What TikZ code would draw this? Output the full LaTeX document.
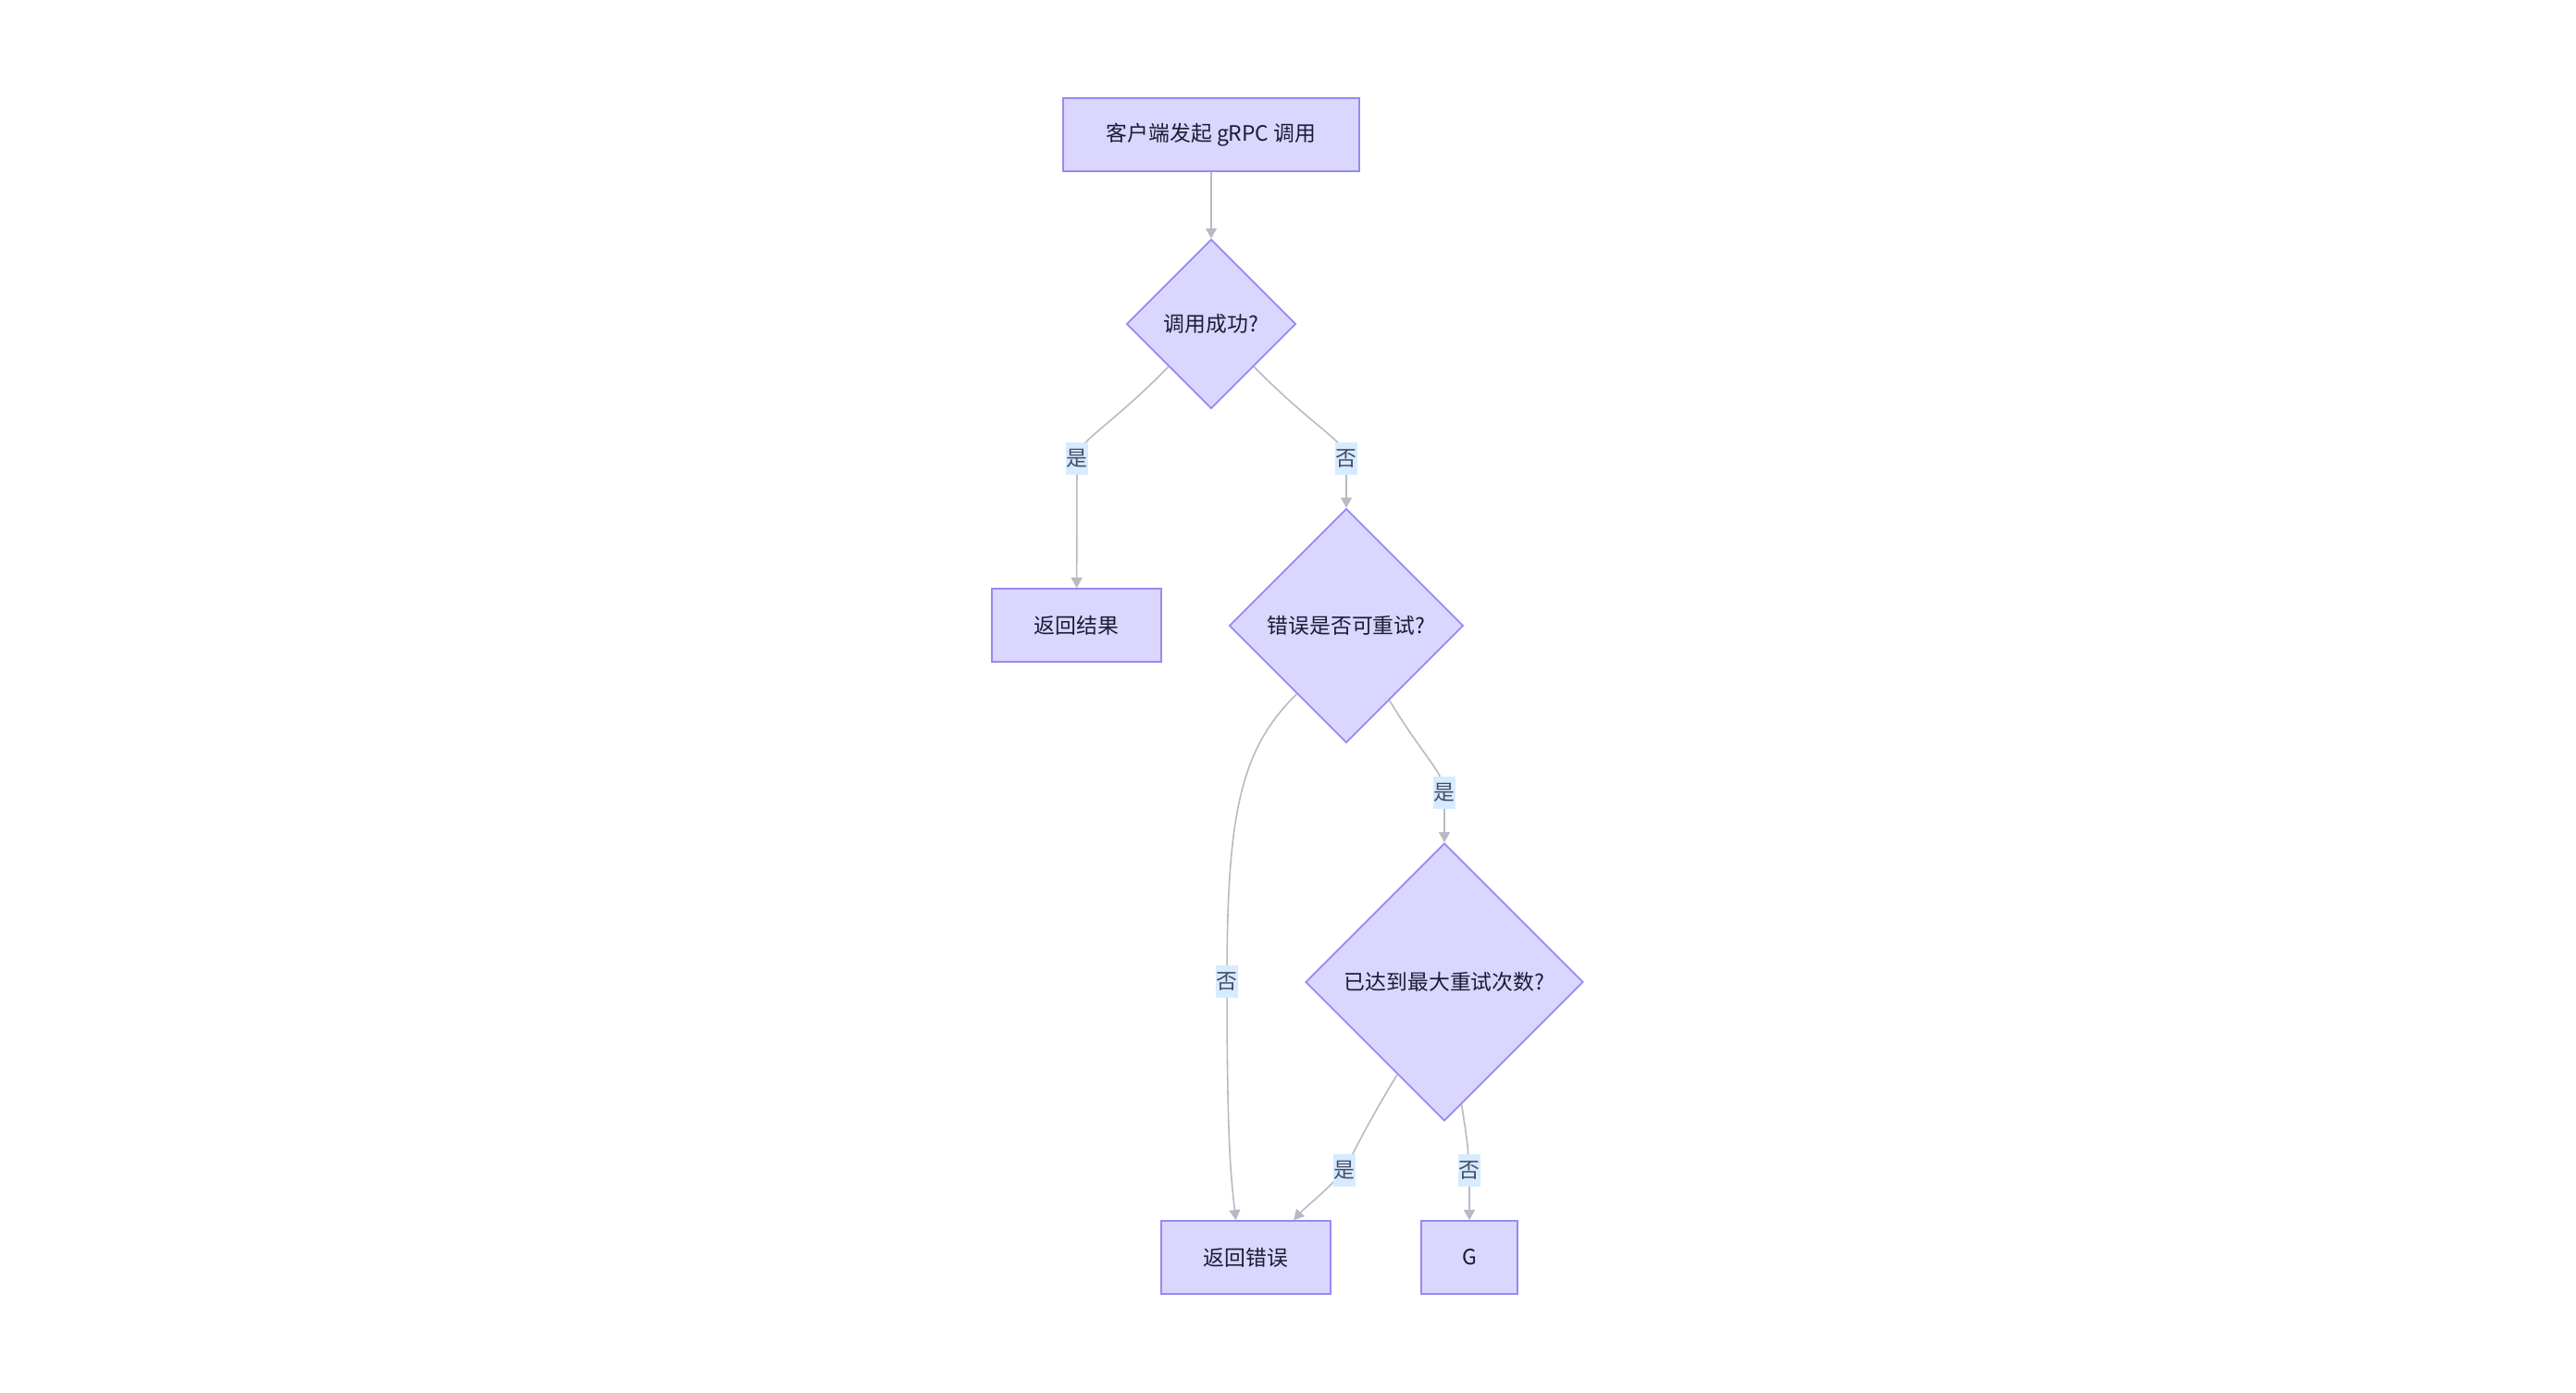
\documentclass[tikz,border=0pt]{standalone}
\usepackage{fontspec}
\setmainfont{Noto Sans CJK SC}
\usepackage{xcolor}
\usetikzlibrary{arrows.meta, shapes.geometric}

\definecolor{nodefill}{RGB}{218,214,254}
\definecolor{nodeline}{RGB}{150,138,242}
\definecolor{edgeline}{RGB}{185,185,195}
\definecolor{lblfill}{RGB}{214,235,255}
\definecolor{nodetext}{RGB}{28,28,52}
\definecolor{lbltext}{RGB}{72,76,102}

\begin{document}
\begin{tikzpicture}[
    font=\fontsize{6.5pt}{8pt}\selectfont,
    >={Triangle[length=1.1mm, width=1.2mm]},
    box/.style={
        draw=nodeline,
        fill=nodefill,
        text=nodetext,
        line width=0.5pt,
        align=center,
        minimum height=0.79cm,
        inner sep=1pt
    },
    decision/.style={
        diamond,
        aspect=1,
        draw=nodeline,
        fill=nodefill,
        text=nodetext,
        line width=0.5pt,
        inner sep=1pt
    },
    link/.style={
        ->,
        draw=edgeline,
        line width=0.45pt
    },
    lbl/.style={
        fill=lblfill,
        text=lbltext,
        inner sep=0pt,
        minimum width=0.24cm,
        minimum height=0.35cm
    }
]

\useasboundingbox (0,0) rectangle (27.84,-15.04);

% ==================== Nodes ====================
\node[box, minimum width=3.2cm] (call) at (13.09,-1.455) {客户端发起 gRPC 调用};

\node[decision, minimum size=1.83cm] (ok) at (13.09,-3.50) {调用成功?};

\node[box, minimum width=1.83cm] (result) at (11.635,-6.755) {返回结果};

\node[decision, minimum size=2.53cm] (retry) at (14.55,-6.76) {错误是否可重试?};

\node[decision, minimum size=3.0cm] (maxed) at (15.61,-10.61) {已达到最大重试次数?};

\node[box, minimum width=1.83cm] (error) at (13.465,-13.585) {返回错误};
\node[box, minimum width=1.04cm] (g) at (15.88,-13.585) {G};

% ==================== Label points ====================
\coordinate (l1) at (11.64,-4.95);
\coordinate (l2) at (14.55,-4.95);
\coordinate (l3) at (13.26,-10.60);
\coordinate (l4) at (15.61,-8.56);
\coordinate (l5) at (14.53,-12.645);
\coordinate (l6) at (15.88,-12.645);

% ==================== Connectors ====================
\draw[link] (call) -- (ok);
\draw[link] (ok.south west) .. controls (11.95,-4.65) and (11.66,-4.75) .. (l1) -- (result);
\draw[link] (ok.south east) .. controls (14.23,-4.65) and (14.53,-4.75) .. (l2) -- (retry);
\draw[link] (retry.234) .. controls (13.4,-8.1) and (13.26,-8.8) .. (l3)
    .. controls (13.26,-12.3) and (13.3,-12.7) .. (error.105);
\draw[link] (retry.300) .. controls (15.4,-8.2) and (15.61,-8.35) .. (l4) -- (maxed);
\draw[link] (maxed.243) .. controls (14.8,-12.1) and (14.6,-12.5) .. (l5)
    .. controls (14.35,-12.85) and (14.1,-13.05) .. (error.38);
\draw[link] (maxed.278) .. controls (15.86,-12.35) .. (l6) -- (g);

% ==================== Edge labels ====================
\node[lbl] (t1) at (l1) {是};
\node[lbl] (t2) at (l2) {否};
\node[lbl] (t3) at (l3) {否};
\node[lbl] (t4) at (l4) {是};
\node[lbl] (t5) at (l5) {是};
\node[lbl] (t6) at (l6) {否};

\end{tikzpicture}
\end{document}
